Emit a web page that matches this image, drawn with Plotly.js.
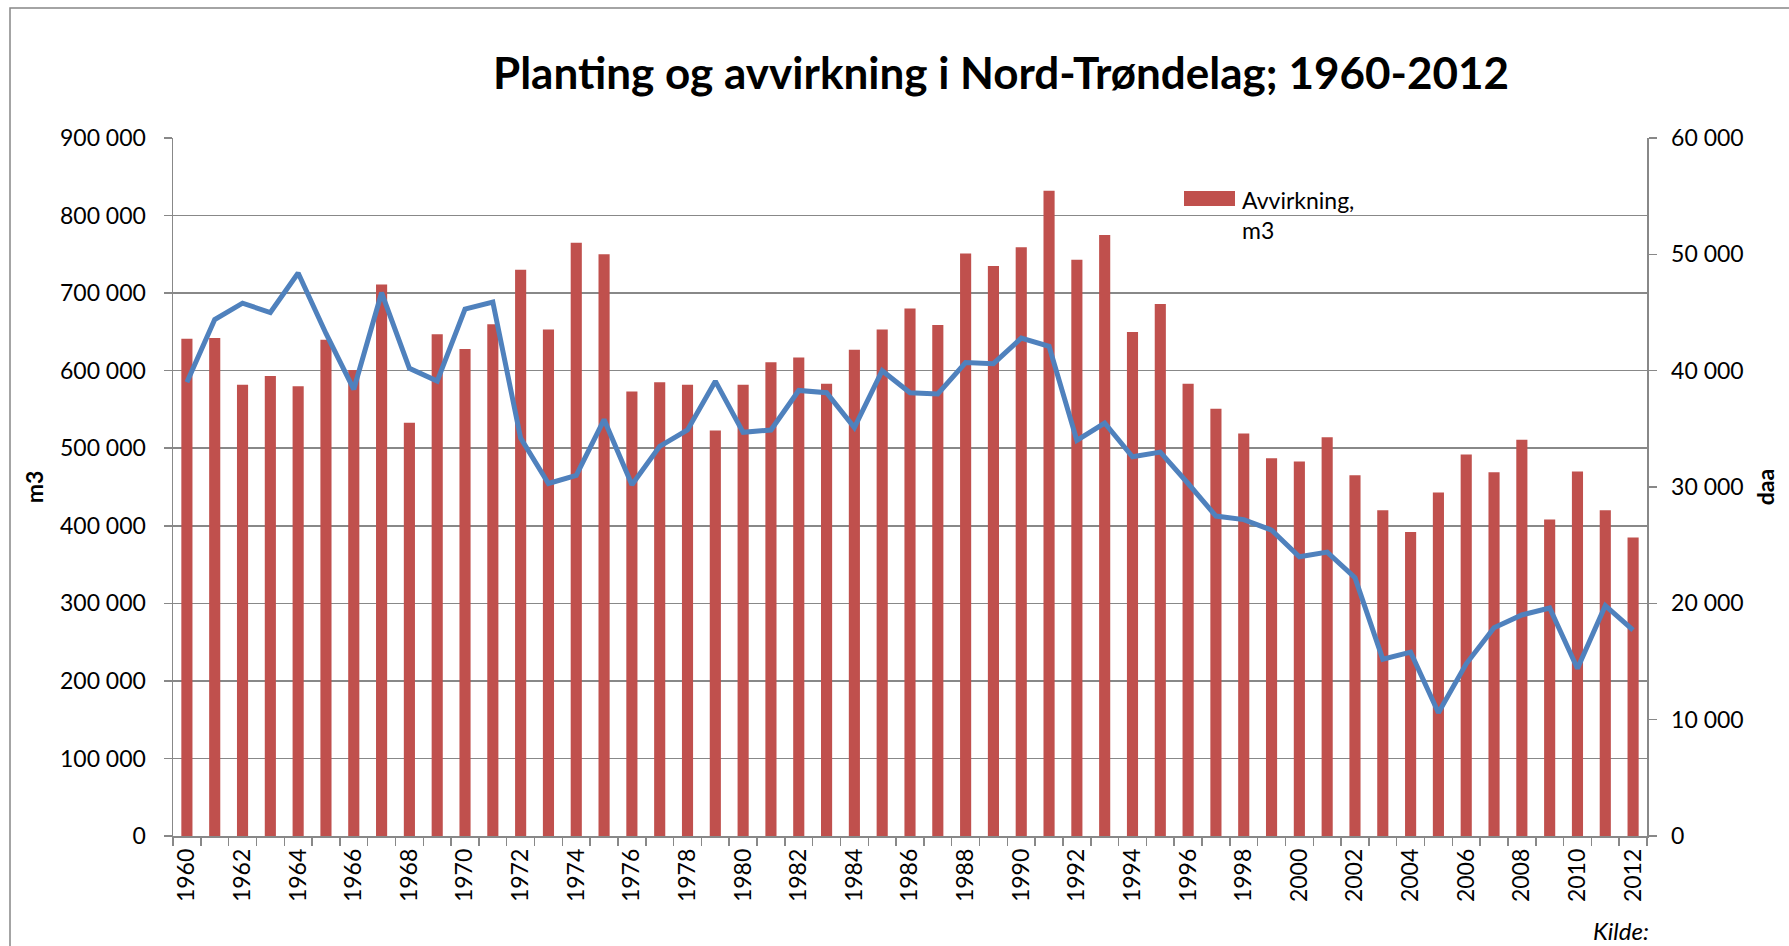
<!DOCTYPE html>
<html><head><meta charset="utf-8">
<script src="https://cdn.plot.ly/plotly-3.0.1.min.js"></script>
<style>html,body{margin:0;padding:0;background:#fff;overflow:hidden}#chart{width:1789px;height:946px}</style>
</head><body><div id="chart"></div>
<script>
const years = ["1960","1961","1962","1963","1964","1965","1966","1967","1968","1969",
  "1970","1971","1972","1973","1974","1975","1976","1977","1978","1979",
  "1980","1981","1982","1983","1984","1985","1986","1987","1988","1989",
  "1990","1991","1992","1993","1994","1995","1996","1997","1998","1999",
  "2000","2001","2002","2003","2004","2005","2006","2007","2008","2009",
  "2010","2011","2012"];
const avvirkning = [641000,642000,582000,593000,580000,640000,601000,711000,533000,647000,
  628000,660000,730000,653000,765000,750000,573000,585000,582000,523000,
  582000,611000,617000,583000,627000,653000,680000,659000,751000,735000,
  759000,832000,743000,775000,650000,686000,583000,551000,519000,487000,
  483000,514000,465000,420000,392000,443000,492000,469000,511000,408000,
  470000,420000,385000];
const planting = [39000,44400,45800,45000,48400,43200,38400,46700,40200,39100,
  45300,45900,34200,30300,31000,35800,30200,33500,34900,39100,
  34700,34900,38300,38100,35100,40000,38100,38000,40700,40600,
  42800,42100,34000,35500,32600,33000,30300,27500,27200,26300,
  24000,24400,22200,15200,15800,10600,14800,17900,19000,19600,
  14400,19800,17700];
const xTickText = years.map(y => (Number(y) % 2 === 0) ? y : "");

const W = 1789, H = 946;
const M = {l: 173, r: 142, t: 138, b: 110};
const pw = W - M.l - M.r, ph = H - M.t - M.b;
const px = x => (x - M.l) / pw;          // pixel -> paper x
const py = y => (H - M.b - y) / ph;      // pixel -> paper y

const GRID = '#888888';
const baseFont = 'Lato, "Open Sans", sans-serif';

const traces = [
  {type: 'bar', x: years, y: avvirkning, name: 'Avvirkning, m3',
   marker: {color: '#C0504D', line: {width: 0}}, showlegend: false, hoverinfo: 'x+y'},
  {type: 'scatter', mode: 'lines', x: years, y: planting, yaxis: 'y2', name: 'Planting, daa',
   line: {color: '#4F81BD', width: 5}, showlegend: false}
];

const layout = {
  width: W, height: H,
  margin: M,
  paper_bgcolor: '#fff', plot_bgcolor: '#fff',
  separators: ', ',
  bargap: 0.6,
  font: {family: baseFont, size: 23, color: '#000'},
  title: {text: '<b>Planting og avvirkning i Nord-Trøndelag; 1960-2012</b>',
    font: {family: baseFont, size: 44, color: '#000'},
    x: 1001 / W, xanchor: 'center', y: 1 - 74 / H, yanchor: 'middle'},
  xaxis: {type: 'category', tickmode: 'array', tickvals: years, ticktext: xTickText,
    tickson: 'boundaries', ticks: 'outside', ticklen: 8, tickcolor: GRID, tickwidth: 1.5,
    tickangle: -90, showline: true, linecolor: GRID, linewidth: 1.5, showgrid: false,
    tickfont: {size: 23}, ticklabelstandoff: 2, range: [-0.5, 52.5], fixedrange: true},
  yaxis: {range: [0, 900000], dtick: 100000, tick0: 0, tickformat: ',d',
    showgrid: true, gridcolor: GRID, gridwidth: 1.5, zeroline: false,
    showline: true, linecolor: GRID, linewidth: 1.5,
    ticks: 'outside', ticklen: 8, tickcolor: GRID, tickwidth: 1.5,
    tickfont: {size: 23}, ticklabelstandoff: 13,
    title: {text: '<b>m3</b>', font: {size: 23}, standoff: 10}},
  yaxis2: {overlaying: 'y', side: 'right', range: [0, 60000], dtick: 10000, tick0: 0,
    tickformat: ',d', showgrid: false, zeroline: false,
    showline: true, linecolor: GRID, linewidth: 1.5,
    ticks: 'outside', ticklen: 8, tickcolor: GRID, tickwidth: 1.5,
    tickfont: {size: 23}, ticklabelstandoff: 10,
    title: {text: '<b>daa</b>', font: {size: 23}, standoff: 15}},
  shapes: [
    {type: 'rect', xref: 'paper', yref: 'paper',
     x0: px(10), x1: px(W + 20), y0: py(H + 20), y1: py(8),
     line: {color: '#878787', width: 1.5}, fillcolor: 'rgba(0,0,0,0)', layer: 'below'},
    {type: 'rect', xref: 'paper', yref: 'paper',
     x0: px(1184), x1: px(1235), y0: py(206), y1: py(191),
     line: {width: 0}, fillcolor: '#C0504D'}
  ],
  annotations: [
    {text: 'Avvirkning,<br>m3', xref: 'paper', yref: 'paper', x: px(1240), y: py(215),
     xanchor: 'left', yanchor: 'middle', align: 'left', showarrow: false,
     font: {size: 23, color: '#000'}},
    {text: '<i>Kilde:</i>', xref: 'paper', yref: 'paper', x: px(1591), y: py(930),
     xanchor: 'left', yanchor: 'middle', showarrow: false,
     font: {size: 24, color: '#000'}}
  ]
};

Plotly.newPlot('chart', traces, layout, {displayModeBar: false, responsive: false, staticPlot: true});
</script>
</body></html>
